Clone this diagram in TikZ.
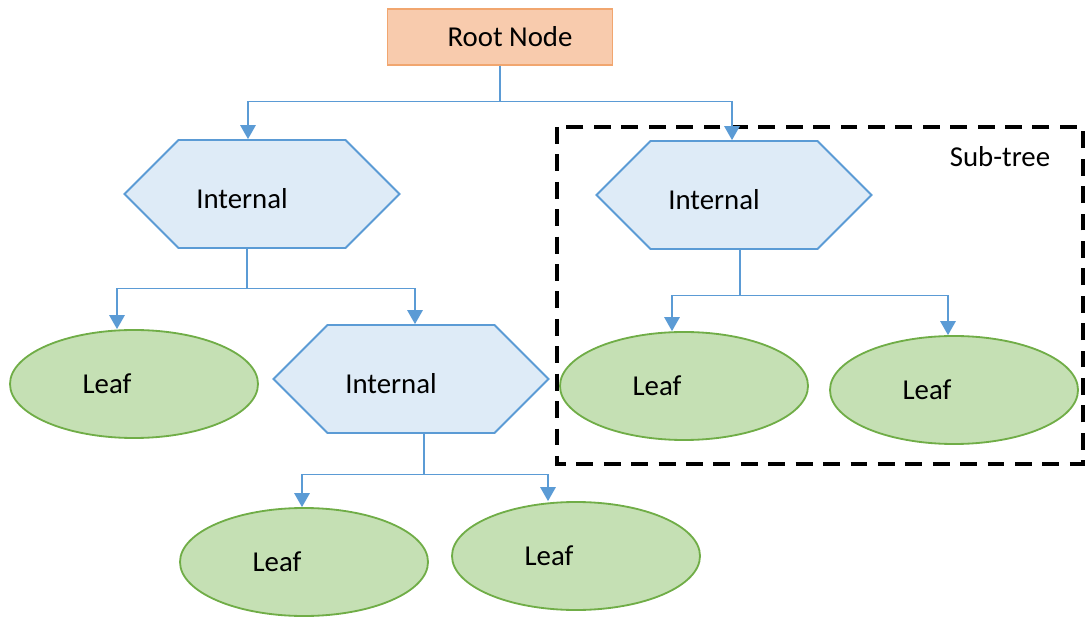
\documentclass[tikz,border=0pt]{standalone}
\usepackage{fontspec}
\setmainfont{Carlito}
\usetikzlibrary{shapes.geometric,shapes.symbols,arrows.meta}

\newlength{\pxl}\setlength{\pxl}{0.25mm}

\definecolor{rootfill}{HTML}{F8CBAD}
\definecolor{rootline}{HTML}{F1A66F}
\definecolor{hexfill}{HTML}{DEEBF7}
\definecolor{hexline}{HTML}{5B9BD5}
\definecolor{leaffill}{HTML}{C5E0B4}
\definecolor{leafline}{HTML}{70AD47}
\definecolor{linkblue}{HTML}{5B9BD5}

\begin{document}
\begin{tikzpicture}[x=0.25mm, y=-0.25mm,
    every node/.style={font=\fontsize{20.5}{24}\selectfont, inner sep=0pt},
    rootbox/.style={rectangle, draw=rootline, fill=rootfill, line width=1pt,
        minimum width=225\pxl, minimum height=56\pxl,
        execute at begin node=\hspace*{10\pxl}, execute at end node=\hspace*{-10\pxl}},
    hexbox/.style={signal, signal to=west and east, signal pointer angle=90,
        draw=hexline, fill=hexfill, line width=1.3pt,
        minimum width=275\pxl, minimum height=108\pxl, text height=20.5pt, text depth=0pt,
        execute at begin node=\hspace*{-20\pxl}, execute at end node=\hspace*{20\pxl}},
    leafbox/.style={ellipse, draw=leafline, fill=leaffill, line width=1.3pt,
        minimum width=248\pxl, minimum height=108\pxl,
        execute at begin node=\hspace*{-27\pxl}, execute at end node=\hspace*{27\pxl}},
    link/.style={draw=linkblue, line width=0.8pt},
    arrowlink/.style={link, -{Triangle[width=3.9mm, length=3.5mm]}},
    subtree/.style={draw=black, line width=3.3pt, dash pattern=on 12pt off 7.5pt}
]
    % --- Canvas ---
    \useasboundingbox (0,0) rectangle (1085,617);

    % --- Sub-tree frame ---
    \draw[subtree] (557,127) rectangle (1083,464);
    \node (subtreelabel) at (1000,157) {Sub-tree};

    % --- Nodes ---
    \node[rootbox] (root) at (500,37) {Root Node};
    \node[hexbox] (intA) at (262,194) {Internal};
    \node[hexbox] (intB) at (734,195) {Internal};
    \node[hexbox] (intC) at (411,379) {Internal};
    \node[leafbox] (leafA) at (134,384) {Leaf};
    \node[leafbox] (leafB) at (304,562) {Leaf};
    \node[leafbox] (leafC) at (576,556) {Leaf};
    \node[leafbox] (leafD) at (684,386) {Leaf};
    \node[leafbox] (leafE) at (954,390) {Leaf};

    % --- Root to internal nodes ---
    \draw[link] (root.south) -- ++(0,36) coordinate (busR);
    \draw[arrowlink] (busR) -| ([xshift=-3.5mm]intA.north);
    \draw[arrowlink] (busR) -| ([xshift=-0.5mm]intB.north);

    % --- Left internal node ---
    \draw[link] ([xshift=-3.75mm]intA.south) -- ++(0,40) coordinate (busA);
    \draw[arrowlink] (busA) -| ([xshift=-4.25mm]leafA.north);
    \draw[arrowlink] (busA) -| ([xshift=1mm]intC.north);

    % --- Lower internal node ---
    \draw[link] ([xshift=3.25mm]intC.south) -- ++(0,41) coordinate (busC);
    \draw[arrowlink] (busC) -| ([xshift=-0.5mm]leafB.north);
    \draw[arrowlink] (busC) -| ([xshift=-7mm]leafC.north);

    % --- Right internal node (sub-tree) ---
    \draw[link] ([xshift=1.5mm]intB.south) -- ++(0,46) coordinate (busB);
    \draw[arrowlink] (busB) -| ([xshift=-3mm]leafD.north);
    \draw[arrowlink] (busB) -| ([xshift=-1.5mm]leafE.north);

\end{tikzpicture}
\end{document}
